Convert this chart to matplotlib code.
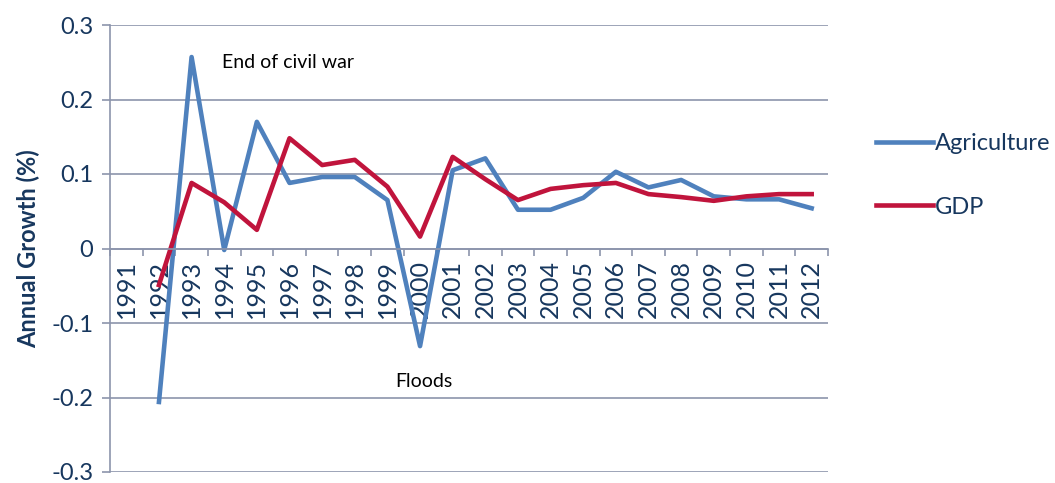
import matplotlib
matplotlib.use('Agg')
import matplotlib.pyplot as plt
import numpy as np

# ── Dados ─────────────────────────────────────────────────────────────────────
years = [str(y) for y in range(1991, 2013)]
agriculture = [np.nan, -0.206, 0.257, -0.002, 0.170, 0.088, 0.096, 0.096, 0.065,
               -0.131, 0.105, 0.121, 0.052, 0.052, 0.068, 0.103, 0.082, 0.092,
               0.070, 0.066, 0.066, 0.054]
gdp = [np.nan, -0.049, 0.088, 0.062, 0.025, 0.148, 0.112, 0.119, 0.083,
       0.016, 0.123, 0.093, 0.065, 0.080, 0.085, 0.088, 0.073, 0.069,
       0.064, 0.070, 0.073, 0.073]
y_ticks = [-0.3, -0.2, -0.1, 0, 0.1, 0.2, 0.3]
y_tick_labels = ['-0.3', '-0.2', '-0.1', '0', '0.1', '0.2', '0.3']

NAVY = '#17375E'
GRID = '#8C95AC'
plt.rcParams['font.family'] = ['Lato', 'DejaVu Sans']

fig = plt.figure(figsize=(10.55, 4.83), dpi=100)
ax = fig.add_axes([110/1055, 1 - 472/483, (828 - 110)/1055, (472 - 25)/483])

x = np.arange(len(years))
ax.plot(x, agriculture, color='#4F81BD', lw=3.3, label='Agriculture', solid_joinstyle='round')
ax.plot(x, gdp, color='#C0143C', lw=3.3, label='GDP', solid_joinstyle='round')

ax.set_xlim(-0.5, len(years) - 0.5)
ax.set_ylim(-0.3, 0.3)
ax.set_yticks(y_ticks)
ax.set_yticklabels(y_tick_labels)
ax.yaxis.grid(True, color=GRID, lw=1.2)
ax.set_axisbelow(True)

# eixo de categorias cruza em y=0
ax.spines['bottom'].set_position(('data', 0))
for s in ['top', 'right']:
    ax.spines[s].set_visible(False)
for s in ['left', 'bottom']:
    ax.spines[s].set_color(GRID)
    ax.spines[s].set_linewidth(1.2)

ax.set_xticks(x)
ax.set_xticklabels(years, rotation=90, fontsize=18, color=NAVY)
ax.set_xticks(np.arange(-0.5, len(years)), minor=True)
ax.tick_params(axis='x', which='major', length=0, pad=8)
ax.tick_params(axis='x', which='minor', length=5, color=GRID, width=1.2)
ax.tick_params(axis='y', length=6, color=GRID, width=1.2, labelsize=17,
               labelcolor=NAVY, pad=6)

ax.set_ylabel('Annual Growth (%)', fontsize=17, fontweight='bold', color=NAVY,
              labelpad=8)

ax.text(2.93, 0.25, 'End of civil war', fontsize=14, color='black', va='center')
ax.text(8.23, -0.179, 'Floods', fontsize=14, color='black', va='center')

leg = fig.legend(loc='upper left', bbox_to_anchor=(855/1055, 1 - 112/483),
                 frameon=False, fontsize=17, handlelength=2.4, handletextpad=0.1,
                 labelspacing=1.8)
for t in leg.get_texts():
    t.set_color(NAVY)

fig.savefig('out.png', dpi=100)
